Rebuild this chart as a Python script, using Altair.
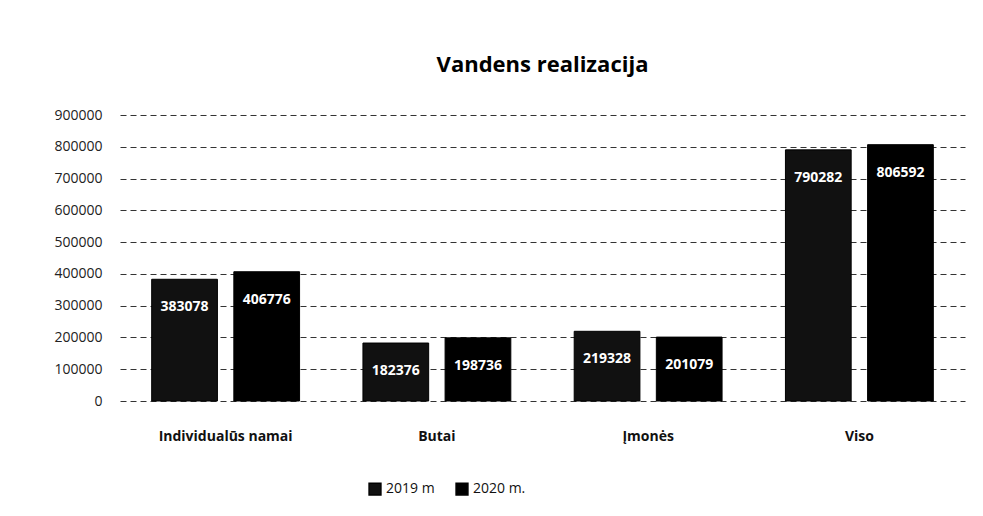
import altair as alt
import pandas as pd

categories = ["Individualūs namai", "Butai", "Įmonės", "Viso"]
series = ["2019 m", "2020 m."]
values_2019 = [383078, 182376, 219328, 790282]
values_2020 = [406776, 198736, 201079, 806592]
y_ticks = [0, 100000, 200000, 300000, 400000, 500000, 600000, 700000, 800000, 900000]

rows = []
for c, a, b in zip(categories, values_2019, values_2020):
    rows.append({"cat": c, "series": series[0], "value": a})
    rows.append({"cat": c, "series": series[1], "value": b})
df = pd.DataFrame(rows)

font = "Open Sans"

base = alt.Chart(df).encode(
    x=alt.X("cat:N", sort=categories, title=None,
            scale=alt.Scale(paddingInner=0.3, paddingOuter=0.15),
            axis=alt.Axis(labelAngle=0, labelFontSize=14, labelColor="#111",
                          labelFont=font, labelFontWeight="bold", ticks=False,
                          domain=False, labelPadding=28)),
    xOffset=alt.XOffset("series:N", sort=series, scale=alt.Scale(paddingInner=0.2)),
    y=alt.Y("value:Q", title=None,
            scale=alt.Scale(domain=[0, 900000], nice=False),
            axis=alt.Axis(values=y_ticks, format="d", labelFontSize=14,
                          labelColor="#222", labelFont=font, ticks=False,
                          domain=False, labelPadding=18, labelOverlap=False,
                          gridColor="#000", gridDash=[6, 4], gridOpacity=0.8)),
)

bars = base.mark_bar(stroke="#000", strokeWidth=1).encode(
    color=alt.Color("series:N", sort=series, title=None,
                    scale=alt.Scale(domain=series, range=["#111111", "#000000"]),
                    legend=alt.Legend(orient="none", legendX=248, legendY=367,
                                      symbolType="square",
                                      symbolSize=140, labelFontSize=14,
                                      labelFont=font, labelColor="#111",
                                      direction="horizontal",
                                      columnPadding=18)),
)

labels = base.mark_text(color="white", fontSize=14, fontWeight="bold",
                        font=font, dy=28).encode(
    text=alt.Text("value:Q", format="d"),
)

chart = (bars + labels).properties(
    width=845, height=286,
    padding={"left": 45, "top": 46, "right": 10, "bottom": 5},
    title=alt.TitleParams("Vandens realizacija", fontSize=22, font=font,
                          fontWeight="bold", color="#000", offset=31),
).configure(background="white").configure_view(strokeWidth=0, stroke="transparent")

chart.save("out.html", embed_options={"renderer": "svg", "actions": False})
